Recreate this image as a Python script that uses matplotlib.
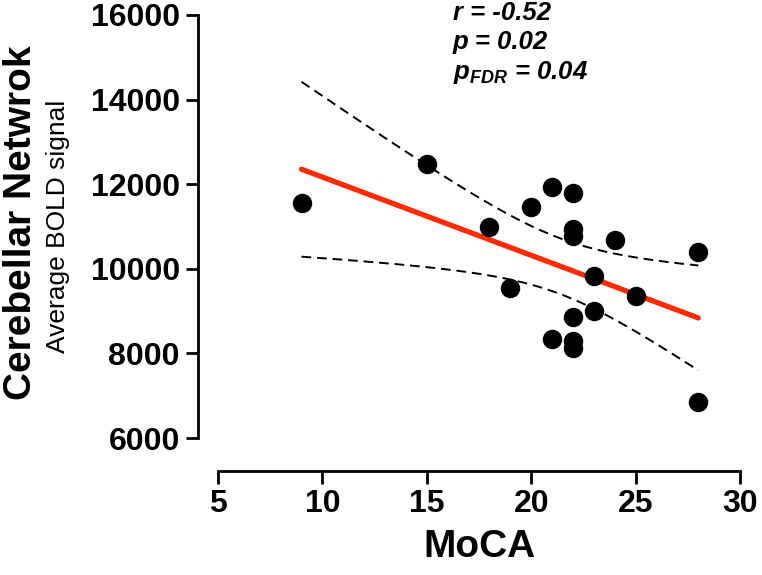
import numpy as np
import matplotlib
matplotlib.use("Agg")
import matplotlib.pyplot as plt

plt.rcParams['font.family'] = ['Liberation Sans', 'DejaVu Sans']
plt.rcParams['mathtext.fontset'] = 'custom'
plt.rcParams['mathtext.it'] = 'Liberation Sans:italic:bold'
plt.rcParams['mathtext.rm'] = 'Liberation Sans:italic:bold'

moca = [9, 15, 18, 19, 20, 21, 21, 22, 22, 22, 22, 22, 22, 23, 23, 24, 25, 28, 28]
bold_signal = [11550, 12480, 10990, 9550, 11470, 11940, 8340, 11790, 10950, 10770,
               8860, 8300, 8130, 9830, 9000, 10690, 9360, 10400, 6850]
stats_lines = ["r = -0.52", "p = 0.02", "$p_{FDR}$ = 0.04"]
x_ticks = [5, 10, 15, 20, 25, 30]
y_ticks = [6000, 8000, 10000, 12000, 14000, 16000]

x = np.array(moca, dtype=float)
y = np.array(bold_signal, dtype=float)
n = len(x)
slope, intercept = np.polyfit(x, y, 1)
resid = y - (slope * x + intercept)
s = np.sqrt(np.sum(resid ** 2) / (n - 2))
sxx = np.sum((x - x.mean()) ** 2)
t_crit = 2.110  # t(0.975, df=17)

xs = np.linspace(x.min(), x.max(), 200)
fit = slope * xs + intercept
half = t_crit * s * np.sqrt(1 / n + (xs - x.mean()) ** 2 / sxx)

fig = plt.figure(figsize=(7.62, 5.75), dpi=100)
ax = fig.add_axes([218 / 762, 137 / 575, 522 / 762, 423 / 575])

ax.plot(xs, fit + half, color='black', lw=1.4, ls=(0, (5, 3)))
ax.plot(xs, fit - half, color='black', lw=1.4, ls=(0, (5, 3)))
ax.plot(xs, fit, color='#ff2a00', lw=3.8, solid_capstyle='round')
ax.plot(x, y, 'o', color='black', ms=13, clip_on=False, zorder=5)

ax.set_xlim(5, 30)
ax.set_ylim(6000, 16000)
ax.set_xticks(x_ticks)
ax.set_yticks(y_ticks)
for side in ['top', 'right']:
    ax.spines[side].set_visible(False)
ax.spines['left'].set_position(('outward', 14.4))
ax.spines['bottom'].set_position(('outward', 24))
for side in ['left', 'bottom']:
    ax.spines[side].set_linewidth(2)
ax.tick_params(width=2, length=9, labelsize=23, pad=4)
for lab in ax.get_xticklabels() + ax.get_yticklabels():
    lab.set_fontweight('bold')

ax.set_xlabel("MoCA", fontsize=28, fontweight='bold', labelpad=7)

fig.text(21 / 762, 1 - 223 / 575, "Cerebellar Netwrok", rotation=90, fontsize=28,
         fontweight='bold', ha='center', va='center')
fig.text(58 / 762, 1 - 226 / 575, "Average BOLD signal", rotation=90, fontsize=19,
         ha='center', va='center')

for i, line in enumerate(stats_lines):
    fig.text(453 / 762, 1 - (13 + 29.5 * i) / 575, line, fontsize=18.5,
             fontweight='bold', style='italic', ha='left', va='center')

fig.savefig("out.png", dpi=100)
